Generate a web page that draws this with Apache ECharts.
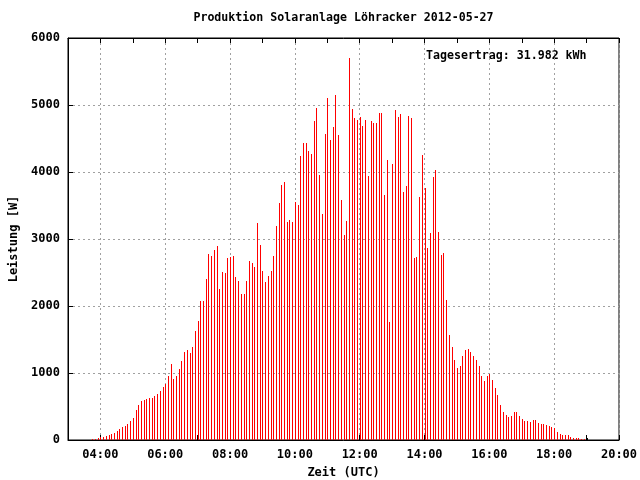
<!DOCTYPE html>
<html><head><meta charset="utf-8">
<script src="https://cdn.jsdelivr.net/npm/echarts@6/dist/echarts.min.js"></script>
<style>html,body{margin:0;padding:0;background:#fff}#c{width:640px;height:480px}</style>
</head><body><div id="c"></div>
<script>
var titleText = 'Produktion Solaranlage Löhracker 2012-05-27';
var yieldText = 'Tagesertrag: 31.982 kWh';
var xAxisName = 'Zeit (UTC)';
var yAxisName = 'Leistung [W]';
var yTicks = [0, 1000, 2000, 3000, 4000, 5000, 6000];
var xTickHours = [4, 6, 8, 10, 12, 14, 16, 18, 20];

var times = [
 '03:45','03:50','03:55',
 '04:00','04:05','04:10','04:15','04:20','04:25','04:30','04:35','04:40','04:45','04:50','04:55',
 '05:00','05:05','05:10','05:15','05:20','05:25','05:30','05:35','05:40','05:45','05:50','05:55',
 '06:00','06:05','06:10','06:15','06:20','06:25','06:30','06:35','06:40','06:45','06:50','06:55',
 '07:00','07:05','07:10','07:15','07:20','07:25','07:30','07:35','07:40','07:45','07:50','07:55',
 '08:00','08:05','08:10','08:15','08:20','08:25','08:30','08:35','08:40','08:45','08:50','08:55',
 '09:00','09:05','09:10','09:15','09:20','09:25','09:30','09:35','09:40','09:45','09:50','09:55',
 '10:00','10:05','10:10','10:15','10:20','10:25','10:30','10:35','10:40','10:45','10:50','10:55',
 '11:00','11:05','11:10','11:15','11:20','11:25','11:30','11:35','11:40','11:45','11:50','11:55',
 '12:00','12:05','12:10','12:15','12:20','12:25','12:30','12:35','12:40','12:45','12:50','12:55',
 '13:00','13:05','13:10','13:15','13:20','13:25','13:30','13:35','13:40','13:45','13:50','13:55',
 '14:00','14:05','14:10','14:15','14:20','14:25','14:30','14:35','14:40','14:45','14:50','14:55',
 '15:00','15:05','15:10','15:15','15:20','15:25','15:30','15:35','15:40','15:45','15:50','15:55',
 '16:00','16:05','16:10','16:15','16:20','16:25','16:30','16:35','16:40','16:45','16:50','16:55',
 '17:00','17:05','17:10','17:15','17:20','17:25','17:30','17:35','17:40','17:45','17:50','17:55',
 '18:00','18:05','18:10','18:15','18:20','18:25','18:30','18:35','18:40','18:45','18:50','18:55',
 '19:00'
];

var power = [
 15,15,30,
 50,45,60,75,90,105,140,170,195,210,240,285,
 330,450,525,585,600,612,622,625,652,687,731,791,
 841,955,1135,910,960,1060,1180,1313,1343,1300,1390,1627,
 1776,2075,2075,2403,2776,2746,2836,2896,2254,2507,2493,2716,
 2731,2746,2433,2373,2179,2179,2373,2672,2642,2582,3239,2910,
 2522,2358,2448,2522,2746,3194,3537,3806,3851,3254,3284,3254,
 3552,3507,4239,4433,4433,4313,4269,4761,4955,3955,3373,4567,
 5104,4478,4672,5149,4552,3582,3060,3269,5701,4940,4806,4776,
 4821,4687,4776,3940,4761,4731,4731,4881,4881,3657,4179,1761,
 4119,4925,4821,4866,3701,3791,4836,4806,2716,2731,3627,4254,
 3761,2866,3090,3925,4025,3104,2761,2791,2090,1567,1390,1194,
 1075,1104,1254,1343,1358,1313,1254,1194,1104,955,881,955,
 985,896,776,672,522,418,373,343,360,420,420,360,
 315,285,285,270,300,300,255,240,240,225,210,195,
 180,120,90,75,75,75,45,30,30,30,15,15,
 30
];

function toHours(s){ var p = s.split(':'); return +p[0] + (+p[1]) / 60; }
var seriesData = times.map(function(t, i){ return [toHours(t), power[i]]; });

var FONT = 'DejaVu Sans Mono';
var chart = echarts.init(document.getElementById('c'), null, {renderer: 'canvas'});
var gridL = 68, gridT = 38, gridW = 551, gridH = 402;
chart.setOption({
  animation: false,
  backgroundColor: '#fff',
  grid: {left: gridL, top: gridT, width: gridW, height: gridH, show: true, borderColor: '#000', borderWidth: 1, backgroundColor: 'transparent', containLabel: false, outerBoundsMode: 'none'},
  xAxis: [{
    type: 'value', min: 3, max: 20, interval: 1, position: 'bottom',
    name: xAxisName, nameLocation: 'middle', nameGap: 27,
    nameTextStyle: {fontFamily: FONT, fontWeight: 'bold', fontSize: 12, color: '#000'},
    axisLine: {show: true, lineStyle: {color: '#000', width: 1}},
    axisTick: {show: true, inside: true, length: 5, lineStyle: {color: '#000'}},
    axisLabel: {
      fontFamily: FONT, fontWeight: 'bold', fontSize: 12, color: '#000', margin: 9,
      formatter: function(v){ return xTickHours.indexOf(v) >= 0 ? (v < 10 ? '0' : '') + v + ':00' : ''; }
    },
    splitLine: {show: true, lineStyle: {color: ['rgba(0,0,0,0)', '#a0a0a0'], type: [2, 3], width: 1}}
  }, {
    type: 'value', min: 3, max: 20, interval: 1, position: 'top',
    axisLine: {show: true, lineStyle: {color: '#000', width: 1}},
    axisTick: {show: true, inside: true, length: 5, lineStyle: {color: '#000'}},
    axisLabel: {show: false}, splitLine: {show: false}
  }],
  yAxis: [{
    type: 'value', min: yTicks[0], max: yTicks[yTicks.length - 1], interval: 1000,
    name: yAxisName, nameLocation: 'middle', nameGap: 47, nameRotate: 90,
    nameTextStyle: {fontFamily: FONT, fontWeight: 'bold', fontSize: 12, color: '#000'},
    axisLine: {show: true, lineStyle: {color: '#000', width: 1}},
    axisTick: {show: true, inside: true, length: 5, lineStyle: {color: '#000'}},
    axisLabel: {fontFamily: FONT, fontWeight: 'bold', fontSize: 12, color: '#000', margin: 8,
      formatter: function(v){ return String(v); }},
    splitLine: {show: true, lineStyle: {color: '#a0a0a0', type: [2, 3], width: 1}}
  }],
  series: [{
    type: 'custom', xAxisIndex: 0, yAxisIndex: 0,
    renderItem: function(params, api){
      var top = api.coord([api.value(0), api.value(1)]);
      var base = api.coord([api.value(0), 0]);
      var x = Math.round(top[0]);
      var y = Math.round(top[1]);
      return {type: 'rect', shape: {x: x, y: y, width: 1, height: Math.round(base[1]) - y},
        style: {fill: params.dataIndex === seriesData.length - 1 ? '#000' : '#ff0000'}};
    },
    encode: {x: 0, y: 1},
    data: seriesData
  }],
  graphic: [
    {type: 'text', x: gridL + gridW / 2, y: 18, style: {text: titleText, font: 'bold 11.6px "' + FONT + '"', fill: '#000', textAlign: 'center', textVerticalAlign: 'middle'}},
    {type: 'text', x: 426, y: 56, style: {text: yieldText, font: 'bold 11.6px "' + FONT + '"', fill: '#000', textAlign: 'left', textVerticalAlign: 'middle'}}
  ]
});
</script></body></html>
